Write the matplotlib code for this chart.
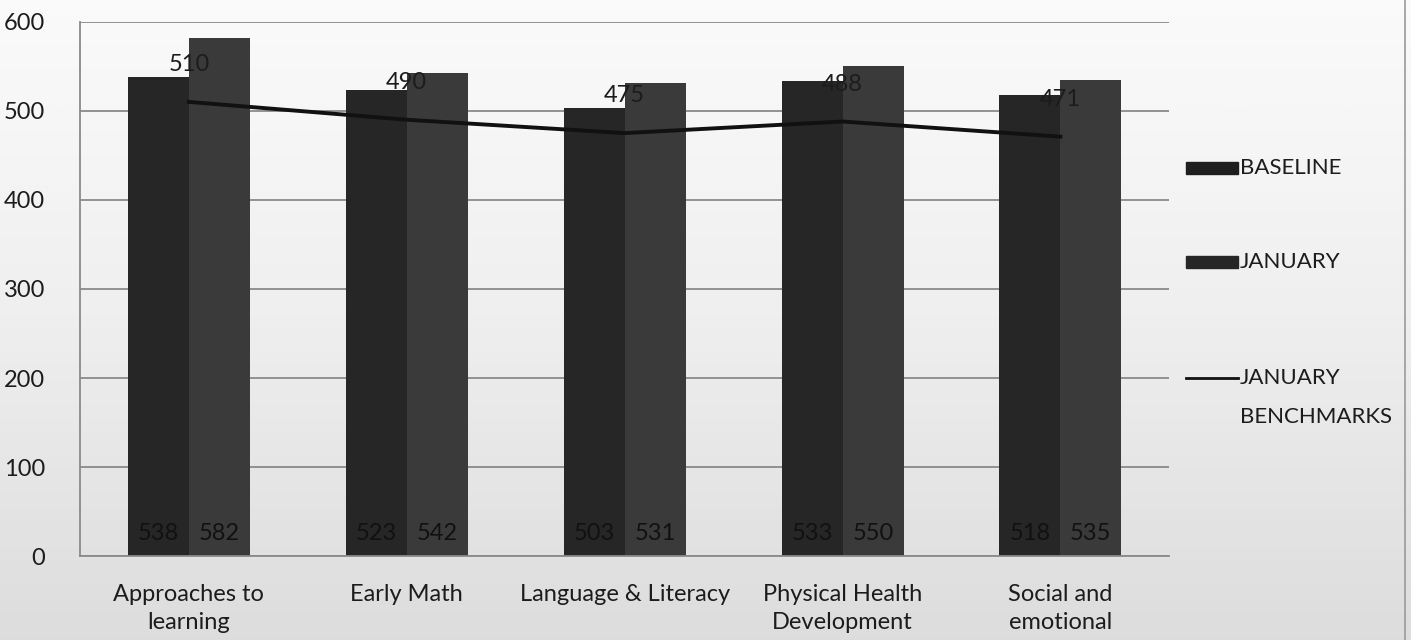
import numpy as np
import matplotlib
matplotlib.use("Agg")
import matplotlib.pyplot as plt
from matplotlib.patches import Rectangle
from matplotlib.lines import Line2D

plt.rcParams['font.family'] = ['Lato', 'DejaVu Sans']

categories = ["Approaches to\nlearning", "Early Math", "Language & Literacy",
              "Physical Health\nDevelopment", "Social and\nemotional"]
baseline = [538, 523, 503, 533, 518]
january = [582, 542, 531, 550, 535]
benchmarks = [510, 490, 475, 488, 471]
yticks = [0, 100, 200, 300, 400, 500, 600]
legend_labels = ["BASELINE", "JANUARY", "JANUARY\nBENCHMARKS"]

TXT = '#1c1c1c'
FS = 17

fig = plt.figure(figsize=(14.11, 6.4), dpi=100)

# soft paper-like background: white at the top fading to light grey
bg = fig.add_axes([0, 0, 1, 1], zorder=-10)
grad = np.linspace(0, 1, 256)[:, None]
grad = np.hstack([grad] * 4)
bg.imshow(grad, aspect='auto', cmap='Greys', vmin=-0.2, vmax=5.0,
          extent=[0, 1, 0, 1], origin='upper')
bg.set_axis_off()

ax = fig.add_axes([0.0567, 0.131, 0.772, 0.835])
ax.set_facecolor('none')

x = np.arange(len(categories))
w = 0.28
ax.bar(x - w / 2, baseline, w, color='#262626', zorder=2)
ax.bar(x + w / 2, january, w, color='#3a3a3a', zorder=2)
ax.plot(x, benchmarks, color='#111111', lw=2.8, zorder=3)

for xi, b, j, m in zip(x, baseline, january, benchmarks):
    ax.text(xi - w / 2, 25, str(b), ha='center', va='center',
            fontsize=FS, color='#111111', zorder=4)
    ax.text(xi + w / 2, 25, str(j), ha='center', va='center',
            fontsize=FS, color='#111111', zorder=4)
    ax.annotate(str(m), (xi, m), xytext=(0, 27), textcoords='offset points',
                ha='center', va='center', fontsize=FS, color=TXT,
                zorder=5)

ax.set_xlim(-0.5, len(categories) - 0.5)
ax.set_ylim(0, 600)
ax.set_yticks(yticks)
ax.yaxis.grid(True, color='#8a8a8a', lw=1.3, zorder=0)
ax.set_axisbelow(True)
ax.set_xticks(x)
ax.set_xticklabels(categories, fontsize=FS, color=TXT, linespacing=1.4)
ax.tick_params(axis='x', length=0, pad=20)
ax.tick_params(axis='y', length=0, pad=25, labelsize=FS, labelcolor=TXT)
for s in ['top', 'right']:
    ax.spines[s].set_visible(False)
for s in ['left', 'bottom']:
    ax.spines[s].set_color('#8a8a8a')
    ax.spines[s].set_linewidth(1.3)

# legend drawn in figure pixels on the right
W, H = 1411, 640
def fx(px):
    return px / W
def fy(py):
    return 1 - py / H

LFS = 16
entries = [(168, 'patch', '#1e1e1e'), (262, 'patch', '#262626'), (378, 'line', '#111111')]
for (py, kind, col), lab in zip(entries, legend_labels):
    if kind == 'patch':
        fig.add_artist(Rectangle((fx(1186), fy(py + 6)), fx(52), 12 / H,
                                 transform=fig.transFigure, color=col))
    else:
        fig.add_artist(Line2D([fx(1186), fx(1238)], [fy(py), fy(py)],
                              transform=fig.transFigure, color=col, lw=2.0))
    lines = lab.split('\n')
    for k, part in enumerate(lines):
        fig.text(fx(1240), fy(py + 39 * k), part, ha='left', va='center',
                 fontsize=LFS, color=TXT)

# chart border on the right edge
fig.add_artist(Line2D([fx(1405), fx(1405)], [0, 1], transform=fig.transFigure,
                      color='#9a9a9a', lw=1.2))

fig.savefig('out.png', dpi=100)
